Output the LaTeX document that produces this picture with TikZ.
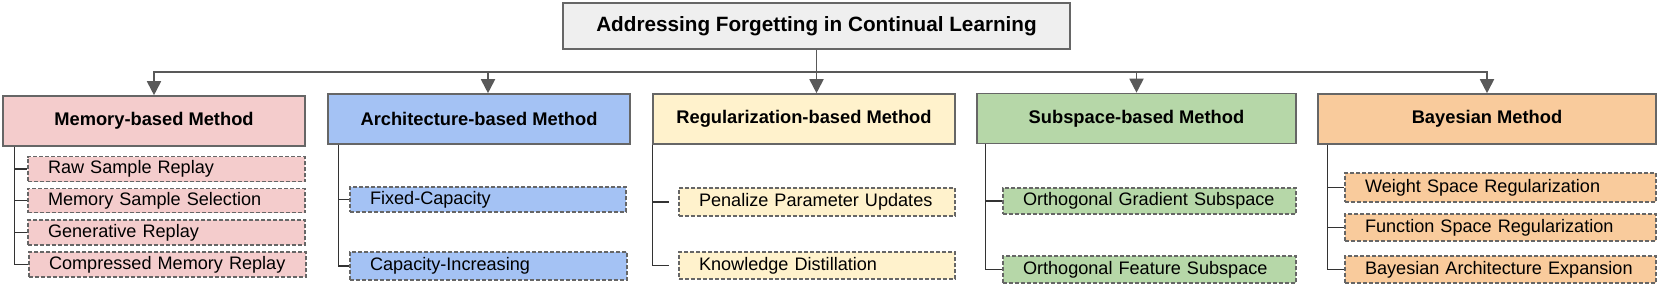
\documentclass[tikz,border=0pt]{standalone}
\usepackage{fontspec}
\setmainfont{Liberation Sans}
\usetikzlibrary{arrows.meta}
\definecolor{edgegray}{HTML}{666666}
\definecolor{arrgray}{HTML}{595959}
\definecolor{treeline}{HTML}{333333}
\definecolor{rootfill}{HTML}{EFEFEF}
\definecolor{memfill}{HTML}{F4CCCC}
\definecolor{archfill}{HTML}{A4C2F4}
\definecolor{regfill}{HTML}{FFF2CC}
\definecolor{subfill}{HTML}{B6D7A8}
\definecolor{bayfill}{HTML}{F9CB9C}
\tikzset{
 rootbox/.style={draw=edgegray, line width=1.6pt, fill=rootfill, minimum width=507pt, minimum height=46pt, inner sep=0pt, font=\fontsize{20.7}{24}\selectfont\bfseries},
 catbox/.style={draw=edgegray, line width=1.6pt, minimum height=50pt, inner sep=0pt, font=\fontsize{18.3}{22}\selectfont\bfseries},
 leafbox/.style={draw=edgegray, line width=1.3pt, dash pattern=on 4pt off 2pt, inner ysep=0pt, inner xsep=20pt, align=left, font=\fontsize{18.1}{22}\selectfont},
 arr/.style={draw=arrgray, line width=1.8pt, -{Triangle[width=14pt,length=14pt]}},
 tree/.style={draw=treeline, line width=1.4pt},
}
\begin{document}
\begin{tikzpicture}[x=1pt,y=-1pt]
\useasboundingbox (0,0) rectangle (1659,286);
% root
\node[rootbox] (root) at (816.5,26) {Addressing Forgetting in Continual Learning};
% categories
\node[catbox, fill=memfill, minimum width=302pt] (mem) at (154,121) {Memory-based Method};
\node[catbox, fill=archfill, minimum width=302pt] (arch) at (479,119) {Architecture-based Method};
\node[catbox, fill=regfill, minimum width=302pt] (reg) at (804,119) {Regularization-based Method};
\node[catbox, fill=subfill, minimum width=319pt] (sub) at (1136.5,118.5) {Subspace-based Method};
\node[catbox, fill=bayfill, minimum width=338pt] (bay) at (1487,119) {Bayesian Method};
% arrows
\coordinate (bus) at (816.5,72);
\draw[arr] (bus) -| (mem.north);
\draw[arr] (bus) -| ([xshift=9pt]arch.north);
\draw[arr] (root.south) -- (root.south |- reg.north);
\draw[arr] (bus) -| (sub.north);
\draw[arr] (bus) -| (bay.north);
% memory leaves
\node[leafbox, fill=memfill, text width=237pt, minimum height=25pt] (m1) at (166.5,169) {Raw Sample Replay};
\node[leafbox, fill=memfill, text width=237pt, minimum height=24pt] (m2) at (166.5,200.5) {Memory Sample Selection};
\node[leafbox, fill=memfill, text width=237pt, minimum height=25pt] (m3) at (166.5,232.5) {Generative Replay};
\node[leafbox, fill=memfill, text width=237pt, minimum height=25pt] (m4) at (167.5,264.5) {Compressed Memory Replay};
\foreach \c in {m1,m2,m3,m4} \draw[tree] ([xshift=12pt]mem.south west) |- (\c.west);
% architecture leaves
\node[leafbox, fill=archfill, text width=236pt, minimum height=25pt] (a1) at (488,199.5) {Fixed-Capacity};
\node[leafbox, fill=archfill, text width=237pt, minimum height=28pt] (a2) at (488.5,266) {Capacity-Increasing};
\foreach \c in {a1,a2} \draw[tree] ([xshift=11pt]arch.south west) |- (\c.west);
% regularization leaves
\node[leafbox, fill=regfill, text width=236pt, minimum height=28pt] (r1) at (817,202) {Penalize Parameter Updates};
\node[leafbox, fill=regfill, text width=236pt, minimum height=27pt] (r2) at (817,265.5) {Knowledge Distillation};
\foreach \c in {r1,r2} \draw[tree] (reg.south west) |- ([xshift=-9pt]\c.west);
% subspace leaves
\node[leafbox, fill=subfill, text width=253pt, minimum height=26pt] (s1) at (1149.5,201) {Orthogonal Gradient Subspace};
\node[leafbox, fill=subfill, text width=253pt, minimum height=27pt] (s2) at (1149.5,269.5) {Orthogonal Feature Subspace};
\foreach \c in {s1,s2} \draw[tree] ([xshift=9pt]sub.south west) |- (\c.west);
% bayesian leaves
\node[leafbox, fill=bayfill, text width=271pt, minimum height=29pt] (b1) at (1500.5,187.5) {Weight Space Regularization};
\node[leafbox, fill=bayfill, text width=271pt, minimum height=27pt] (b2) at (1500.5,227.5) {Function Space Regularization};
\node[leafbox, fill=bayfill, text width=271pt, minimum height=27pt] (b3) at (1500.5,269.5) {Bayesian Architecture Expansion};
\foreach \c in {b1,b2,b3} \draw[tree] ([xshift=10pt]bay.south west) |- (\c.west);
\end{tikzpicture}
\end{document}
